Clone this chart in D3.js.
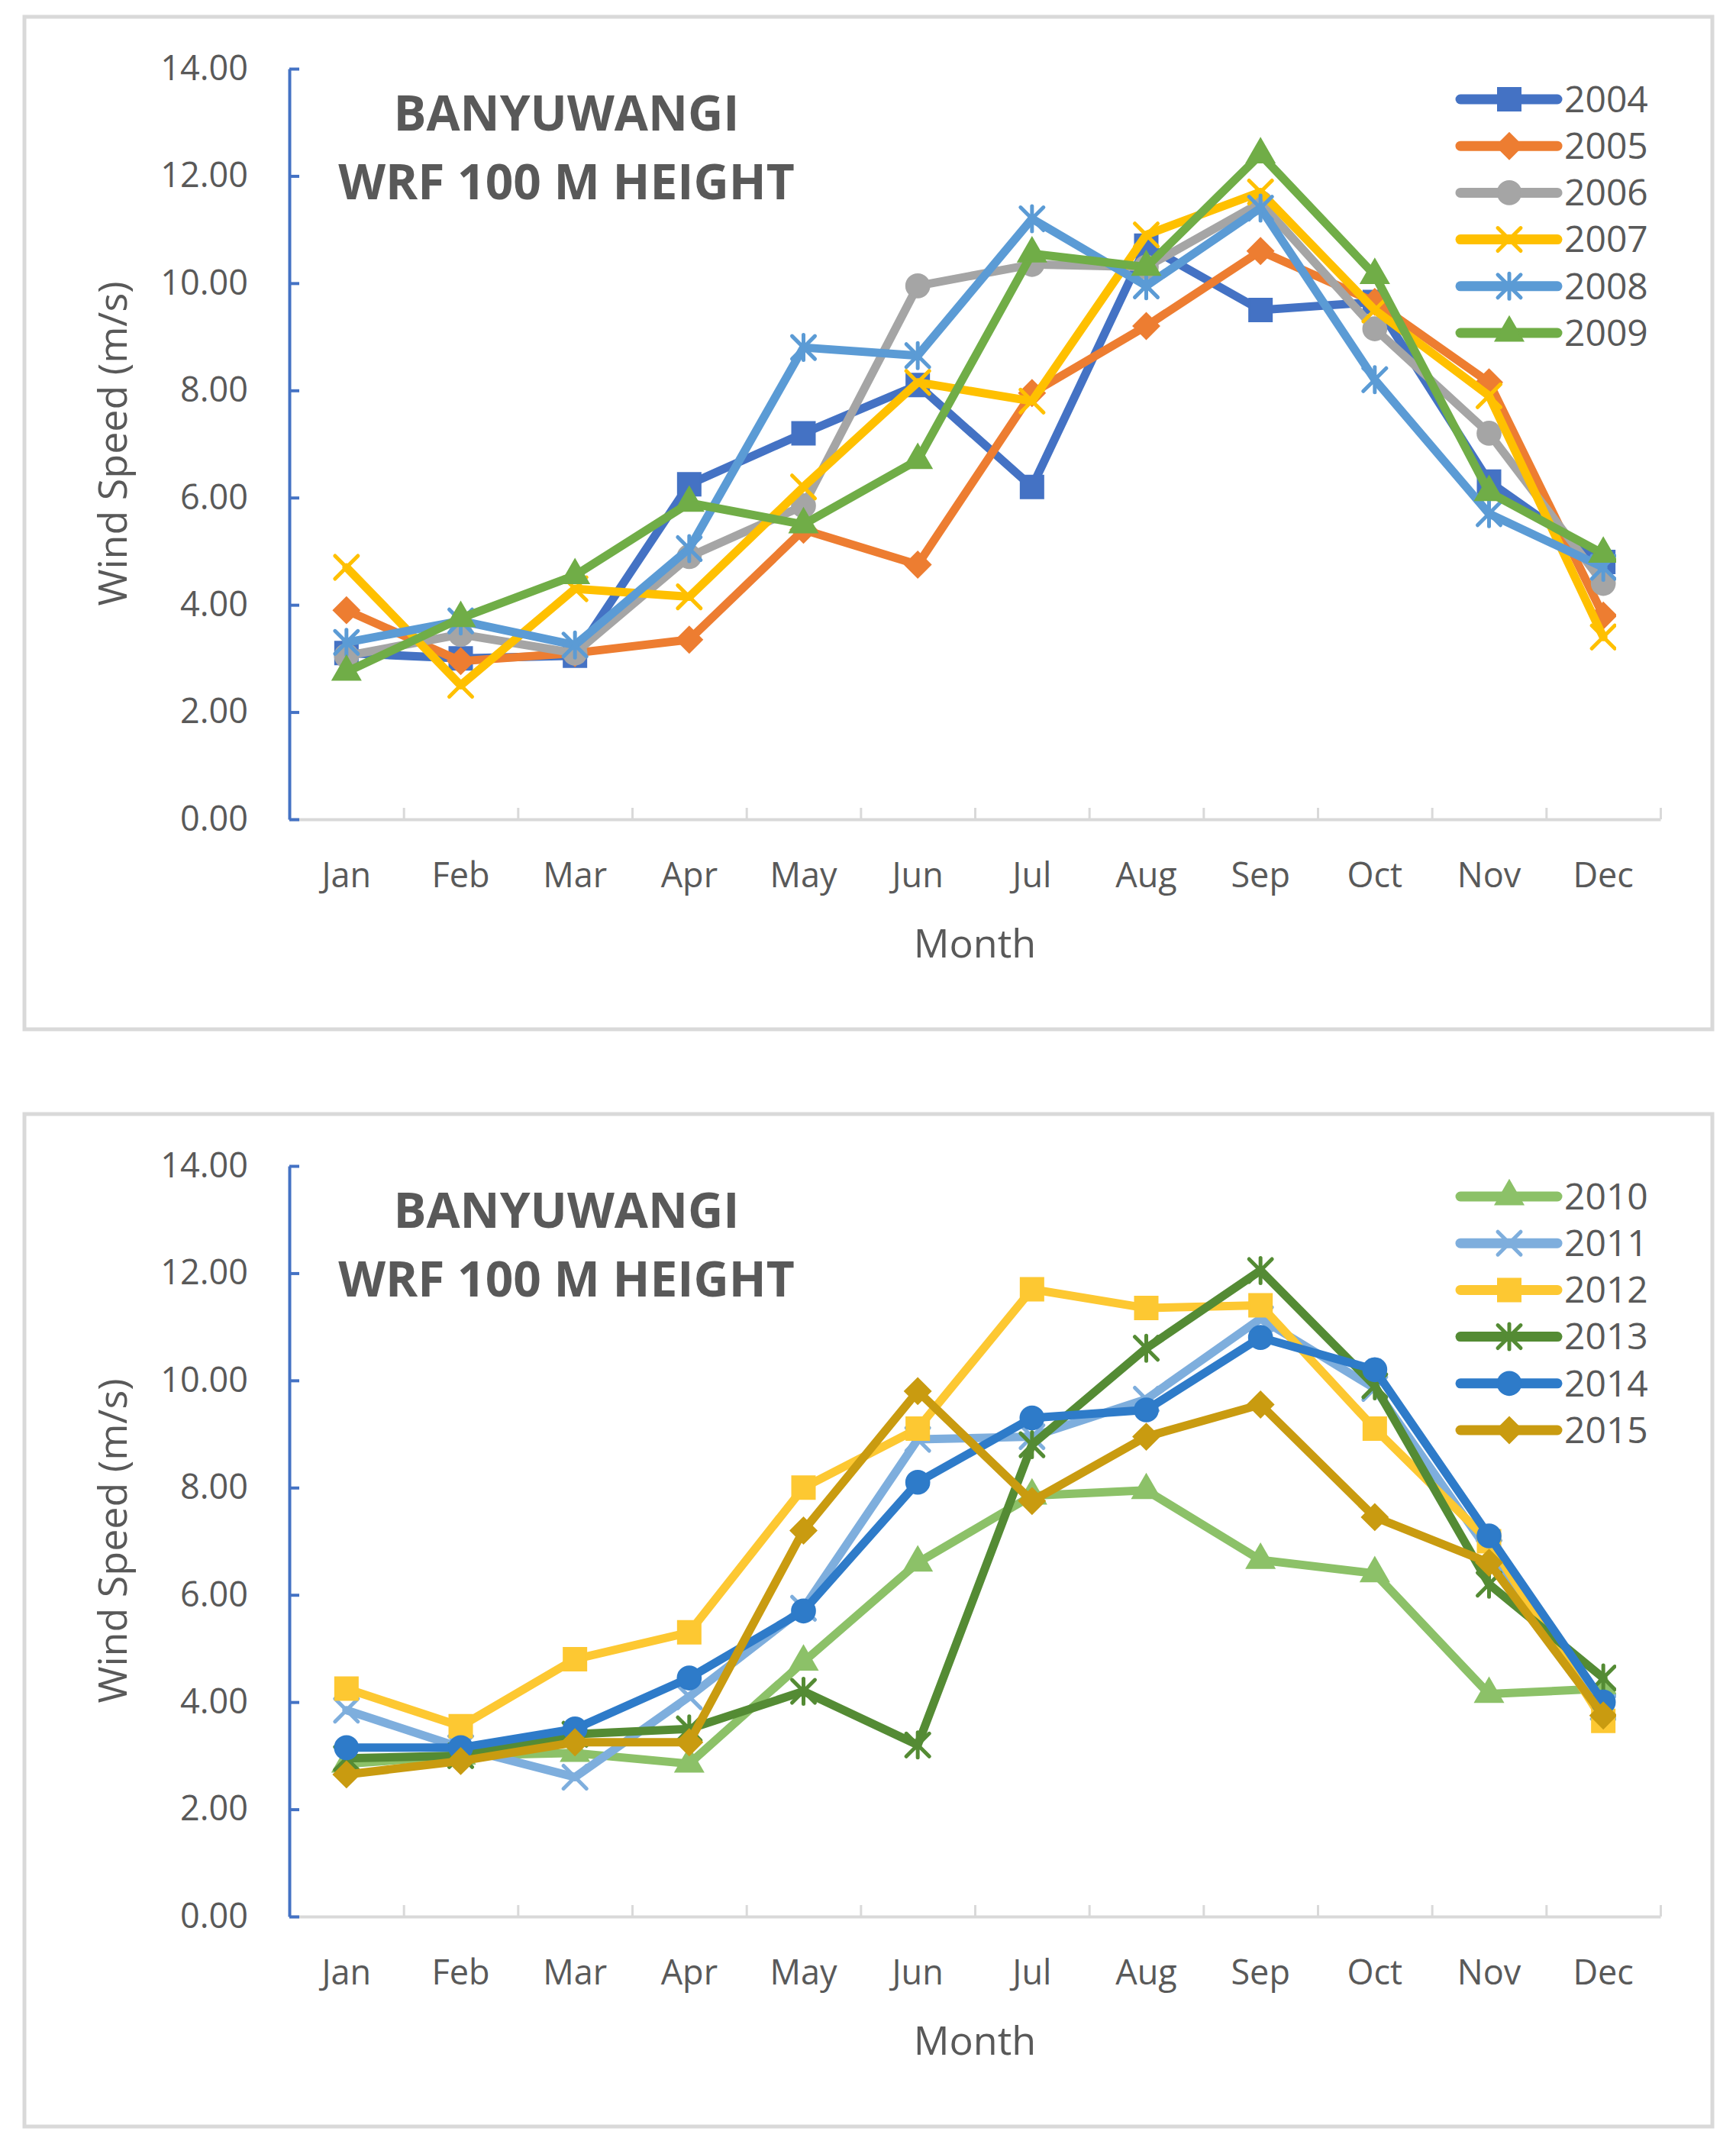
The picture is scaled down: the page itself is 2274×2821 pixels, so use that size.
<!DOCTYPE html>
<html lang="en">
<head>
<meta charset="UTF-8" />
<title>Banyuwangi WRF 100 M Height - monthly wind speed</title>
<script src="https://d3js.org/d3.v7.min.js"></script>
<style>
  body { margin: 0; background: #fff; font-family: "Open Sans", sans-serif; }
  svg { display: block; }
  text { fill: #595959; }
</style>
</head>
<body>
<svg id="fig" width="2274" height="2821"></svg>
<script>
const months = ["Jan", "Feb", "Mar", "Apr", "May", "Jun", "Jul", "Aug", "Sep", "Oct", "Nov", "Dec"];
const yTicks = [0, 2, 4, 6, 8, 10, 12, 14];

// upper panel, 2004-2009 (m/s)
const wind2004 = [3.1, 3.0, 3.05, 6.25, 7.2, 8.1, 6.2, 10.7, 9.5, 9.65, 6.3, 4.8];
const wind2005 = [3.9, 2.95, 3.1, 3.35, 5.4, 4.75, 7.95, 9.2, 10.6, 9.65, 8.15, 3.8];
const wind2006 = [3.05, 3.45, 3.1, 4.9, 5.85, 9.95, 10.35, 10.3, 11.5, 9.15, 7.2, 4.4];
const wind2007 = [4.7, 2.5, 4.3, 4.15, 6.2, 8.15, 7.8, 10.9, 11.7, 9.5, 7.9, 3.4];
const wind2008 = [3.3, 3.7, 3.25, 5.05, 8.8, 8.65, 11.2, 9.95, 11.4, 8.2, 5.7, 4.7];
const wind2009 = [2.75, 3.75, 4.55, 5.9, 5.5, 6.7, 10.55, 10.3, 12.4, 10.15, 6.1, 4.95];

// lower panel, 2010-2015 (m/s)
const wind2010 = [2.85, 3.0, 3.05, 2.85, 4.75, 6.6, 7.85, 7.95, 6.65, 6.4, 4.15, 4.25];
const wind2011 = [3.85, 3.15, 2.6, 4.1, 5.75, 8.9, 8.95, 9.65, 11.15, 9.85, 6.8, 3.9];
const wind2012 = [4.25, 3.55, 4.8, 5.3, 8.0, 9.1, 11.7, 11.35, 11.4, 9.1, 7.0, 3.65];
const wind2013 = [2.95, 3.0, 3.4, 3.5, 4.2, 3.2, 8.8, 10.6, 12.05, 9.9, 6.2, 4.45];
const wind2014 = [3.15, 3.15, 3.5, 4.45, 5.7, 8.1, 9.3, 9.45, 10.8, 10.2, 7.1, 4.0];
const wind2015 = [2.65, 2.9, 3.25, 3.25, 7.2, 9.8, 7.75, 8.95, 9.55, 7.45, 6.6, 3.75];

const yearsTop = ["2004", "2005", "2006", "2007", "2008", "2009"];
const valuesTop = [wind2004, wind2005, wind2006, wind2007, wind2008, wind2009];
const yearsBottom = ["2010", "2011", "2012", "2013", "2014", "2015"];
const valuesBottom = [wind2010, wind2011, wind2012, wind2013, wind2014, wind2015];

const style = {
  "2004": { color: "#4472c4", marker: "square" },
  "2005": { color: "#ed7d31", marker: "diamond" },
  "2006": { color: "#a5a5a5", marker: "circle" },
  "2007": { color: "#ffc000", marker: "x" },
  "2008": { color: "#5b9bd5", marker: "star" },
  "2009": { color: "#70ad47", marker: "triangle" },
  "2010": { color: "#8cc168", marker: "triangle" },
  "2011": { color: "#7eaedd", marker: "x" },
  "2012": { color: "#fdc832", marker: "square" },
  "2013": { color: "#548b34", marker: "star" },
  "2014": { color: "#2e7bc9", marker: "circle" },
  "2015": { color: "#c99b10", marker: "diamond" }
};

const crossX = {
  draw(ctx, size) {
    const r = Math.sqrt(size) / 2;
    ctx.moveTo(-r, -r); ctx.lineTo(r, r);
    ctx.moveTo(r, -r); ctx.lineTo(-r, r);
  }
};
const asterisk = {
  draw(ctx, size) {
    const r = Math.sqrt(size) / 2;
    crossX.draw(ctx, size);
    ctx.moveTo(0, -r * 1.1); ctx.lineTo(0, r * 1.1);
  }
};
const markers = {
  square:   { path: d3.symbol(d3.symbolSquare, 900)(), filled: true, rot: 0 },
  diamond:  { path: d3.symbol(d3.symbolSquare, 580)(), filled: true, rot: 45 },
  circle:   { path: d3.symbol(d3.symbolCircle, 740)(), filled: true, rot: 0 },
  triangle: { path: d3.symbol(d3.symbolTriangle, 580)(), filled: true, rot: 0 },
  x:        { path: d3.symbol(crossX, 900)(), filled: false, rot: 0 },
  star:     { path: d3.symbol(asterisk, 900)(), filled: false, rot: 0 }
};

const svg = d3.select("#fig");

function addMarker(sel, name, color) {
  const m = markers[name];
  sel.append("path")
    .attr("d", m.path)
    .attr("transform", `rotate(${m.rot})`)
    .attr("fill", m.filled ? color : "none")
    .attr("stroke", color)
    .attr("stroke-width", m.filled ? 2 : 5)
    .attr("stroke-linecap", "round");
}

function drawPanel(offset, id, years, values) {
  const g = svg.append("g").attr("transform", `translate(0,${offset})`);

  g.append("rect")
    .attr("x", 32).attr("y", 22).attr("width", 2211).attr("height", 1326)
    .attr("fill", "#fff").attr("stroke", "#d9d9d9").attr("stroke-width", 5);

  const x = d3.scaleBand().domain(months).range([379, 2175]);
  const y = d3.scaleLinear().domain([0, 14]).range([1073, 90]);
  const cx = m => x(m) + x.bandwidth() / 2;

  // category boundary ticks + x axis line
  const xb = d3.scaleLinear().domain([0, 12]).range([379, 2175]);
  const xLine = g.append("g").attr("transform", `translate(0,${y(0)})`)
    .call(d3.axisBottom(xb).tickValues(d3.range(1, 13)).tickSize(-15).tickSizeOuter(0).tickFormat(""));
  xLine.select(".domain").attr("stroke", "#d9d9d9").attr("stroke-width", 4);
  xLine.selectAll(".tick line").attr("stroke", "#d9d9d9").attr("stroke-width", 3);

  const xAx = g.append("g").attr("transform", `translate(0,${y(0)})`)
    .call(d3.axisBottom(x).tickSize(0).tickPadding(57));
  xAx.select(".domain").remove();
  xAx.selectAll("text").attr("font-size", 45).attr("font-family", "Open Sans").attr("fill", "#595959");

  const yAx = g.append("g").attr("transform", "translate(379,0)")
    .call(d3.axisLeft(y).tickValues(yTicks).tickFormat(d3.format(".2f"))
      .tickSizeInner(-13).tickSizeOuter(0).tickPadding(54));
  yAx.select(".domain").attr("stroke", "#4472c4").attr("stroke-width", 4);
  yAx.selectAll(".tick line").attr("stroke", "#4472c4").attr("stroke-width", 4);
  yAx.selectAll("text").attr("font-size", 45).attr("font-family", "Open Sans").attr("fill", "#595959");

  g.append("text")
    .attr("x", 1277).attr("y", 1254).attr("text-anchor", "middle")
    .attr("font-size", 52).text("Month");
  g.append("text")
    .attr("transform", "translate(166,581) rotate(-90)").attr("text-anchor", "middle")
    .attr("font-size", 52).text("Wind Speed (m/s)");

  const title = g.append("text").attr("text-anchor", "middle")
    .attr("font-size", 64).attr("font-weight", "bold");
  title.append("tspan").attr("x", 742).attr("y", 171).text("BANYUWANGI");
  title.append("tspan").attr("x", 742).attr("y", 261).text("WRF 100 M HEIGHT");

  g.append("clipPath").attr("id", id)
    .append("rect").attr("x", 0).attr("y", 0).attr("width", 2117).attr("height", 1300);

  const line = d3.line().x((d, i) => cx(months[i])).y(d => y(d));
  const plot = g.append("g").attr("clip-path", `url(#${id})`);
  years.forEach((yr, k) => {
    const st = style[yr];
    const s = plot.append("g");
    s.append("path").datum(values[k])
      .attr("d", line).attr("fill", "none").attr("stroke", st.color)
      .attr("stroke-width", 11).attr("stroke-linejoin", "round").attr("stroke-linecap", "round");
    values[k].forEach((v, i) => {
      const mg = s.append("g").attr("transform", `translate(${cx(months[i])},${y(v)})`);
      addMarker(mg, st.marker, st.color);
    });
  });

  // legend
  const leg = g.append("g");
  years.forEach((yr, k) => {
    const st = style[yr];
    const ry = 130 + 61.2 * k;
    leg.append("line").attr("x1", 1913).attr("x2", 2040).attr("y1", ry).attr("y2", ry)
      .attr("stroke", st.color).attr("stroke-width", 13).attr("stroke-linecap", "round");
    addMarker(leg.append("g").attr("transform", `translate(1977,${ry})`), st.marker, st.color);
    leg.append("text").attr("x", 2049).attr("y", ry).attr("dy", "0.35em")
      .attr("font-size", 48).text(yr);
  });
}

drawPanel(0, "clipTop", yearsTop, valuesTop);
drawPanel(1437, "clipBottom", yearsBottom, valuesBottom);
</script>
</body>
</html>
